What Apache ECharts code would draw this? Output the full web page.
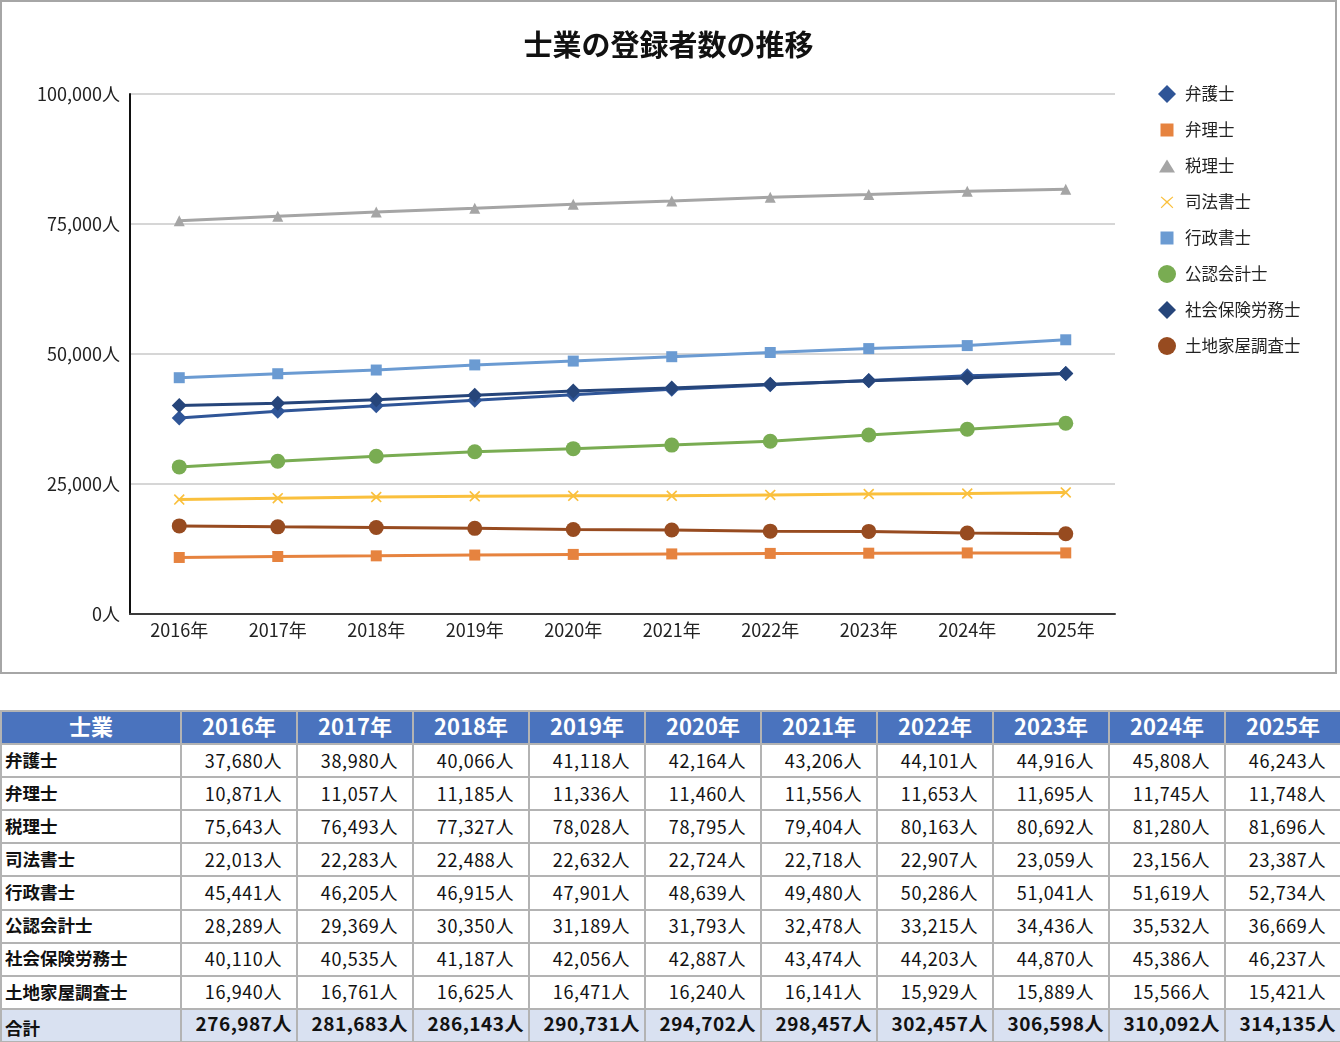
<!DOCTYPE html>
<html>
<head>
<meta charset="utf-8">
<script src="https://cdn.jsdelivr.net/npm/echarts@6/dist/echarts.min.js"></script>
<style>
  html, body { margin: 0; padding: 0; background: #fff; }
  body { width: 1340px; height: 1042px; position: relative; overflow: hidden;
         font-family: "Noto Sans CJK JP", "Noto Sans", sans-serif; }
  #chart { position: absolute; left: 0; top: 0; width: 1337px; height: 674px; }
  #frame { position: absolute; left: 0; top: 0; width: 1337px; height: 674px;
           box-sizing: border-box; border: 2px solid #a6a6a6; pointer-events: none; }
  #tbl { position: absolute; left: 0; top: 710px; width: 1340px; height: 333px; border-collapse: collapse;
         table-layout: fixed; color: #111; }
  #tbl tr { height: 33px; }
  #tbl td, #tbl th { border: 2px solid #b3b3b3; padding: 0; white-space: nowrap; line-height: 1; }
  #tbl th { background: #4A73BE; color: #fff; font-size: 22px; font-weight: bold; text-align: center; padding-bottom: 5px; }
  #tbl td.name { font-weight: bold; font-size: 17.5px; text-align: left; padding-left: 3px; padding-bottom: 2px; }
  #tbl td.num { font-size: 18px; letter-spacing: 0.6px; text-align: right; padding-right: 14px; padding-bottom: 2px; }
  #tbl tr.total td { background: #D9E1F1; font-weight: bold; }
  #tbl tr.total td.num { font-size: 19px; letter-spacing: 0.5px; padding-right: 4px; padding-bottom: 6px; }
  #tbl tr.total td.name { font-size: 17.5px; padding-top: 4px; padding-bottom: 0; }
</style>
</head>
<body>
<div id="chart"></div>
<div id="frame"></div>
<table id="tbl"></table>
<script>
const title = '士業の登録者数の推移';
const years = ['2016年','2017年','2018年','2019年','2020年','2021年','2022年','2023年','2024年','2025年'];
const headerLabel = '士業';
const totalLabel = '合計';
const yTicks = [0, 25000, 50000, 75000, 100000];

const names = ['弁護士','弁理士','税理士','司法書士','行政書士','公認会計士','社会保険労務士','土地家屋調査士'];
const bengoshi   = [37680, 38980, 40066, 41118, 42164, 43206, 44101, 44916, 45808, 46243];
const benrishi   = [10871, 11057, 11185, 11336, 11460, 11556, 11653, 11695, 11745, 11748];
const zeirishi   = [75643, 76493, 77327, 78028, 78795, 79404, 80163, 80692, 81280, 81696];
const shihou     = [22013, 22283, 22488, 22632, 22724, 22718, 22907, 23059, 23156, 23387];
const gyousei    = [45441, 46205, 46915, 47901, 48639, 49480, 50286, 51041, 51619, 52734];
const kaikei     = [28289, 29369, 30350, 31189, 31793, 32478, 33215, 34436, 35532, 36669];
const sharoushi  = [40110, 40535, 41187, 42056, 42887, 43474, 44203, 44870, 45386, 46237];
const tochi      = [16940, 16761, 16625, 16471, 16240, 16141, 15929, 15889, 15566, 15421];
const totals     = [276987, 281683, 286143, 290731, 294702, 298457, 302457, 306598, 310092, 314135];

const seriesValues = [bengoshi, benrishi, zeirishi, shihou, gyousei, kaikei, sharoushi, tochi];

const colors = ['#2F5597', '#E6833F', '#A5A5A5', '#FAC03D', '#6B9BD2', '#79AC52', '#26457A', '#974B20'];
const xPath = 'path://M1,0 L5,3.8 L9,0 L10,1 L6.2,5 L10,9 L9,10 L5,6.2 L1,10 L0,9 L3.8,5 L0,1 Z';
const symbols = ['diamond', 'rect', 'triangle', xPath, 'rect', 'circle', 'diamond', 'circle'];
const symbolSizes = [15, 11, 11, 11, 11, 15, 15, 15];
const legendIcons = [
  'path://M9,0 L18,9 L9,18 L0,9 Z',
  'path://M0,0 M18,18 M2.5,2.5 L15.5,2.5 L15.5,15.5 L2.5,15.5 Z',
  'path://M0,0 M18,18 M9,2.5 L17,15.5 L1,15.5 Z',
  'path://M0,0 M18,18 M3.5,3.5 L9,8 L14.5,3.5 L15.3,4.3 L10,9 L15.3,14.5 L14.5,15.3 L9,10 L3.5,15.3 L2.7,14.5 L8,9 L2.7,4.3 Z',
  'path://M0,0 M18,18 M2.5,2.5 L15.5,2.5 L15.5,15.5 L2.5,15.5 Z',
  'circle',
  'path://M9,0 L18,9 L9,18 L0,9 Z',
  'circle'
];

const fmt = v => v.toLocaleString('en-US') + '人';

const chart = echarts.init(document.getElementById('chart'));
chart.setOption({
  animation: false,
  textStyle: { fontFamily: '"Noto Sans CJK JP", sans-serif' },
  title: {
    text: title, left: 'center', top: 25,
    textStyle: { fontSize: 29, fontWeight: 'bold', color: '#111' }
  },
  legend: {
    orient: 'vertical', left: 1153, top: 80,
    itemWidth: 18, itemHeight: 18, itemGap: 18,
    textStyle: { fontSize: 16.5, color: '#222', padding: [0, 0, 0, 4] },
    data: names.map((n, i) => ({ name: n, icon: legendIcons[i] }))
  },
  grid: { left: 130, right: 222, top: 94, bottom: 60 },
  xAxis: {
    type: 'category', data: years, boundaryGap: true,
    axisLine: { lineStyle: { color: '#3a3a3a', width: 2 } },
    axisTick: { show: false },
    axisLabel: { fontSize: 18, color: '#222', margin: 7 }
  },
  yAxis: {
    type: 'value', min: yTicks[0], max: yTicks[yTicks.length - 1], interval: yTicks[1] - yTicks[0],
    axisLine: { show: true, lineStyle: { color: '#111', width: 2 } },
    axisTick: { show: false },
    axisLabel: { fontSize: 18, color: '#222', margin: 10, formatter: v => fmt(v) },
    splitLine: { lineStyle: { color: '#d6d6d6', width: 2 } }
  },
  series: names.map((n, i) => ({
    name: n, type: 'line', data: seriesValues[i],
    symbol: symbols[i], symbolSize: symbolSizes[i], showAllSymbol: true,
    lineStyle: { color: colors[i], width: 3 },
    itemStyle: { color: colors[i] }
  }))
});

const tbl = document.getElementById('tbl');
let html = '<colgroup><col style="width:180px">' + years.map(() => '<col style="width:116px">').join('') + '</colgroup>';
html += '<tr><th>' + headerLabel + '</th>' + years.map(y => '<th>' + y + '</th>').join('') + '</tr>';
names.forEach((n, i) => {
  html += '<tr><td class="name">' + n + '</td>' + seriesValues[i].map(v => '<td class="num">' + fmt(v) + '</td>').join('') + '</tr>';
});
html += '<tr class="total"><td class="name">' + totalLabel + '</td>' + totals.map(v => '<td class="num">' + fmt(v) + '</td>').join('') + '</tr>';
tbl.innerHTML = html;
</script>
</body>
</html>
